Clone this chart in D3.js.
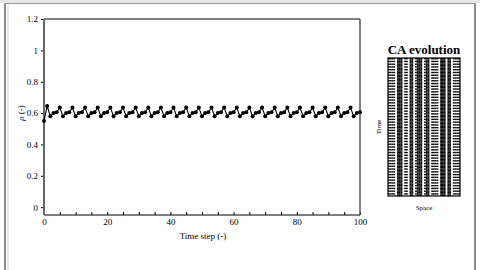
<!DOCTYPE html>
<html>
<head>
<meta charset="utf-8">
<script src="https://cdn.jsdelivr.net/npm/d3@7"></script>
<style>
  body { margin: 0; background: #fff; }
  svg { display: block; font-family: "Liberation Serif", "DejaVu Serif", serif; }
</style>
</head>
<body>
<div class="vis"></div>
<script>
// density per time step
const density = [
  0.55, 0.645,
  0.58, 0.60, 0.605, 0.635, 0.58, 0.60, 0.605, 0.635,
  0.58, 0.60, 0.605, 0.635, 0.58, 0.60, 0.605, 0.635,
  0.58, 0.60, 0.605, 0.635, 0.58, 0.60, 0.605, 0.635,
  0.58, 0.60, 0.605, 0.635, 0.58, 0.60, 0.605, 0.635,
  0.58, 0.60, 0.605, 0.635, 0.58, 0.60, 0.605, 0.635,
  0.58, 0.60, 0.605, 0.635, 0.58, 0.60, 0.605, 0.635,
  0.58, 0.60, 0.605, 0.635, 0.58, 0.60, 0.605, 0.635,
  0.58, 0.60, 0.605, 0.635, 0.58, 0.60, 0.605, 0.635,
  0.58, 0.60, 0.605, 0.635, 0.58, 0.60, 0.605, 0.635,
  0.58, 0.60, 0.605, 0.635, 0.58, 0.60, 0.605, 0.635,
  0.58, 0.60, 0.605, 0.635, 0.58, 0.60, 0.605, 0.635,
  0.58, 0.60, 0.605, 0.635, 0.58, 0.60, 0.605, 0.635,
  0.58, 0.60, 0.605
];
const yTicks = [0, 0.2, 0.4, 0.6, 0.8, 1, 1.2];
const xTicks = [0, 20, 40, 60, 80, 100];
const xMinorTicks = d3.range(0, 101, 5);

// CA evolution: column kind (B = always occupied, S = flips every step, W = empty)
const caColumns = ['S','S','S','S','W','B','B','B','W','S','S','W','B','B','W','S','B','B','B','W',
                   'S','B','B','W','S','S','S','S','W','B','B','B','W','B','B','W','S','S','S','S'];
const caStripePhase = [1, 0];
const caSteps = 100;

const W = 480, H = 270;
const svg = d3.select('.vis').append('svg').attr('width', W).attr('height', H);

// window frame
svg.append('rect').attr('x', 0).attr('y', 0).attr('width', W).attr('height', 3).attr('fill', '#e6e6e6');
svg.append('line').attr('x1', 5).attr('x2', 5).attr('y1', 3).attr('y2', H).attr('stroke', '#8c8c8c').attr('stroke-width', 2);
svg.append('line').attr('x1', 8).attr('x2', 8).attr('y1', 3).attr('y2', H).attr('stroke', '#d0d0d0');
svg.append('line').attr('x1', 4).attr('x2', 476).attr('y1', 3.5).attr('y2', 3.5).attr('stroke', '#9a9a9a');
svg.append('line').attr('x1', 475).attr('x2', 475).attr('y1', 3).attr('y2', H).attr('stroke', '#8c8c8c').attr('stroke-width', 2);

// main plot
const plot = { left: 44, right: 360, top: 19, bottom: 215 };
const x = d3.scaleLinear().domain([0, 100]).range([plot.left, plot.right]);
const y = d3.scaleLinear().domain([-0.05, 1.2]).range([plot.bottom, plot.top]);

const g = svg.append('g');

// x axis: ticks point inward
g.append('g')
  .attr('transform', `translate(0,${plot.bottom})`)
  .call(d3.axisTop(x).tickValues(xMinorTicks).tickSize(3).tickFormat(''))
  .call((a) => a.select('.domain').remove());
g.append('g')
  .attr('transform', `translate(0,${plot.bottom})`)
  .call(d3.axisBottom(x).tickValues(xTicks).tickSize(0).tickPadding(4).tickFormat(d3.format('d')))
  .call((a) => a.select('.domain').remove())
  .call((a) => a.selectAll('text').attr('font-size', 9).attr('font-family', 'Liberation Serif').attr('fill', '#000'));

// y axis
g.append('g')
  .attr('transform', `translate(${plot.left},0)`)
  .call(d3.axisLeft(y).tickValues(yTicks).tickSize(3).tickPadding(3).tickFormat((d) => d))
  .call((a) => a.select('.domain').remove())
  .call((a) => a.selectAll('line').attr('stroke', '#000'))
  .call((a) => a.selectAll('text').attr('font-size', 9).attr('font-family', 'Liberation Serif').attr('fill', '#000'));

// box
g.append('line').attr('x1', plot.left).attr('x2', plot.right).attr('y1', plot.top).attr('y2', plot.top)
  .attr('stroke', '#555').attr('stroke-width', 1.5);
g.append('line').attr('x1', plot.right).attr('x2', plot.right).attr('y1', plot.top).attr('y2', plot.bottom)
  .attr('stroke', '#555').attr('stroke-width', 1.5);
g.append('line').attr('x1', plot.left).attr('x2', plot.right).attr('y1', plot.bottom).attr('y2', plot.bottom)
  .attr('stroke', '#000').attr('stroke-width', 1.2);
g.append('line').attr('x1', plot.left).attr('x2', plot.left).attr('y1', plot.top).attr('y2', plot.bottom)
  .attr('stroke', '#666').attr('stroke-width', 2);

// series
const line = d3.line().x((d, i) => x(i)).y((d) => y(d));
g.append('path').datum(density)
  .attr('fill', 'none').attr('stroke', '#000').attr('stroke-width', 1.1)
  .attr('d', line);
g.selectAll('.dot').data(density).enter().append('circle')
  .attr('class', 'dot')
  .attr('cx', (d, i) => x(i)).attr('cy', (d) => y(d))
  .attr('r', 2).attr('fill', '#000');

// axis labels
svg.append('text').attr('x', 203).attr('y', 239).attr('text-anchor', 'middle')
  .attr('font-size', 9).text('Time step (-)');
svg.append('text').attr('transform', 'translate(24,113) rotate(-90)').attr('text-anchor', 'middle')
  .attr('font-size', 9)
  .call((t) => {
    t.append('tspan').attr('font-style', 'italic').text('ρ');
    t.append('tspan').text(' (-)');
  });

// CA evolution panel
const ca = { left: 388, right: 460, top: 58, bottom: 196 };
const cx = d3.scaleBand().domain(d3.range(caColumns.length)).range([ca.left, ca.right]);
const cy = d3.scaleBand().domain(d3.range(caSteps)).range([ca.top, ca.bottom]);

const cells = [];
d3.range(caSteps).forEach((t) => {
  caColumns.forEach((kind, c) => {
    const on = kind === 'B' ? 1 : kind === 'S' ? caStripePhase[t % 2] : 0;
    if (on) cells.push({ t, c });
  });
});

svg.append('rect').attr('x', ca.left).attr('y', ca.top)
  .attr('width', ca.right - ca.left).attr('height', ca.bottom - ca.top).attr('fill', '#fff');
svg.append('g').selectAll('rect').data(cells).enter().append('rect')
  .attr('x', (d) => cx(d.c)).attr('y', (d) => cy(d.t))
  .attr('width', cx.bandwidth()).attr('height', cy.bandwidth())
  .attr('fill', '#000');
svg.append('rect').attr('x', ca.left).attr('y', ca.top)
  .attr('width', ca.right - ca.left).attr('height', ca.bottom - ca.top)
  .attr('fill', 'none').attr('stroke', '#000').attr('stroke-width', 1.2);

svg.append('text').attr('x', 424).attr('y', 54).attr('text-anchor', 'middle')
  .attr('font-size', 13).attr('font-weight', 'bold').text('CA evolution');
svg.append('text').attr('x', 424).attr('y', 210).attr('text-anchor', 'middle')
  .attr('font-size', 7).text('Space');
svg.append('text').attr('transform', 'translate(381,127) rotate(-90)').attr('text-anchor', 'middle')
  .attr('font-size', 7).text('Time');
</script>
</body>
</html>
